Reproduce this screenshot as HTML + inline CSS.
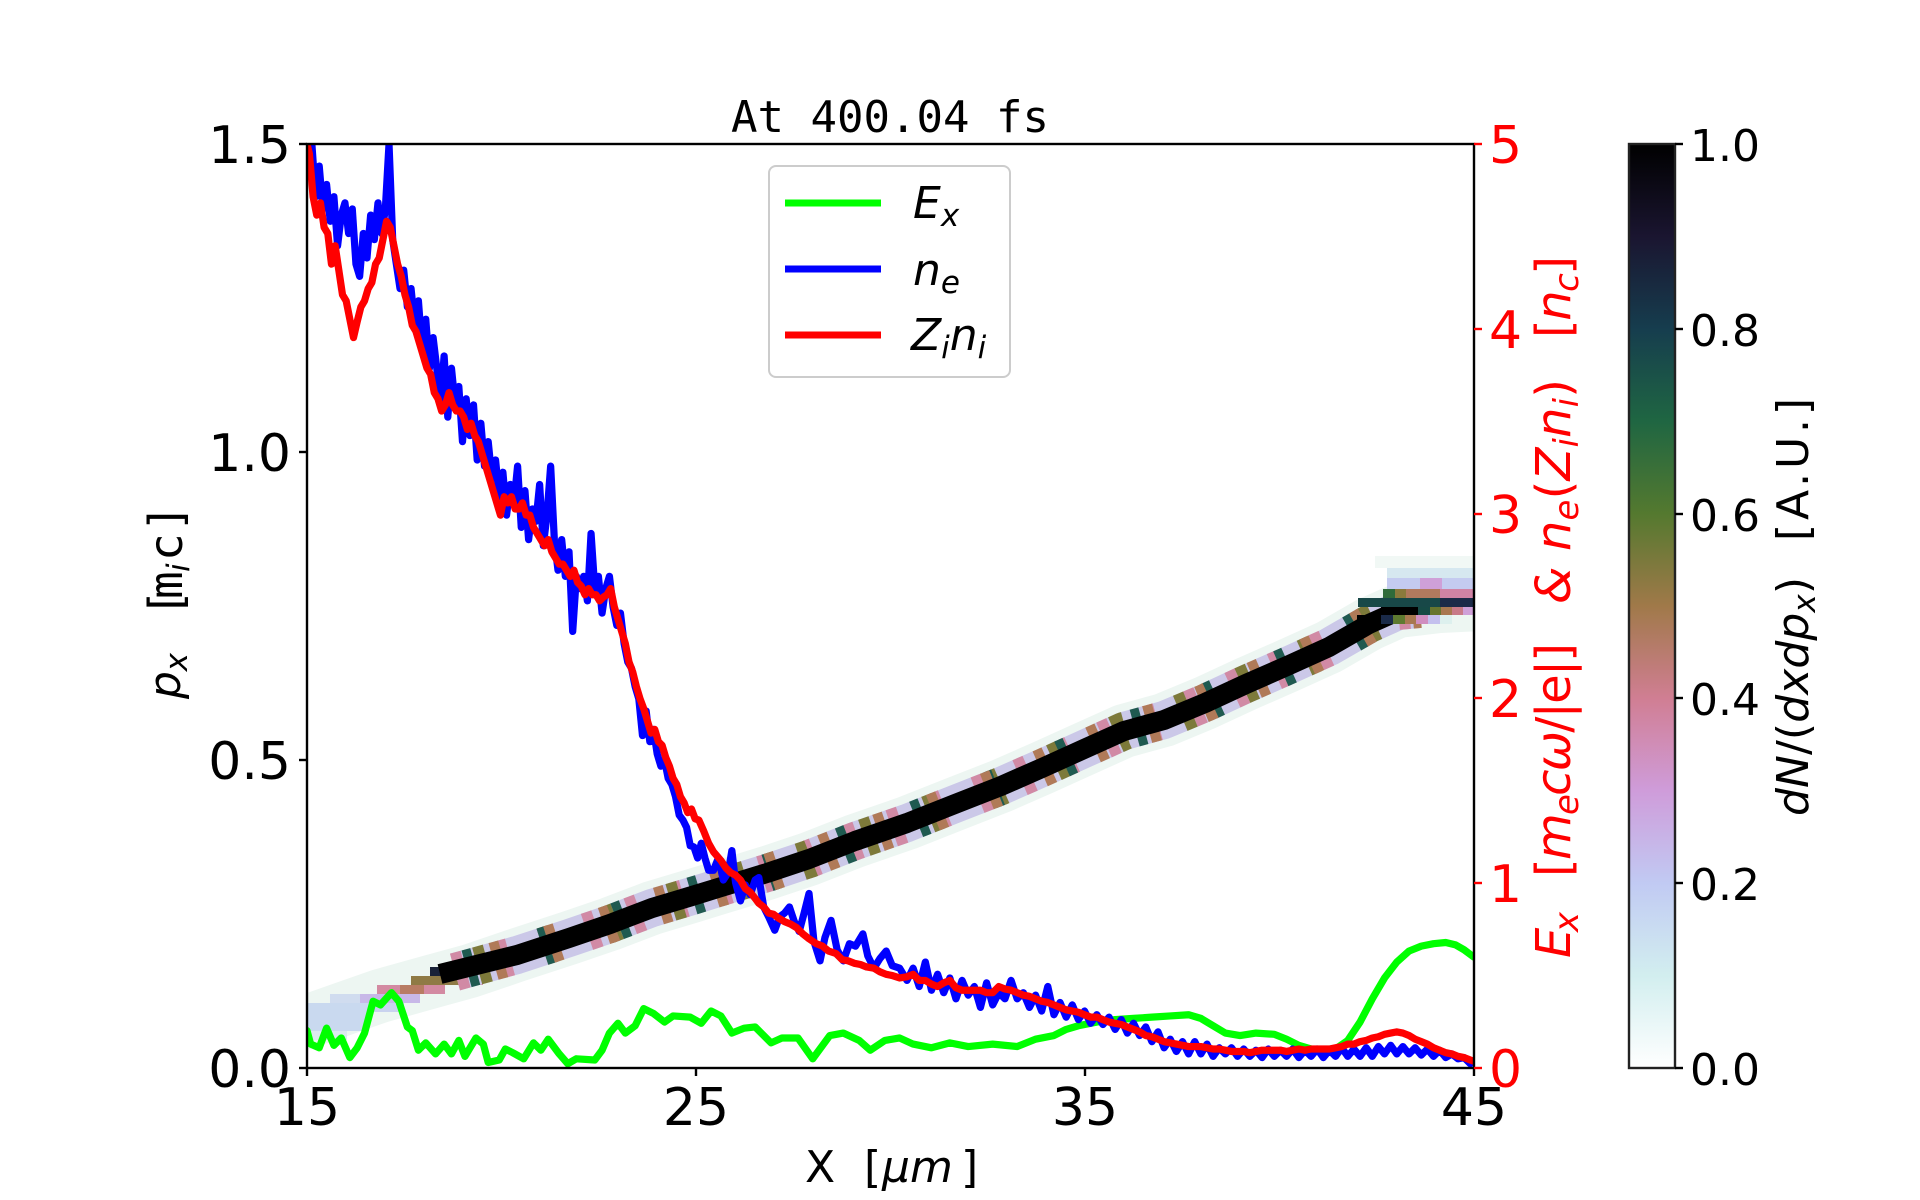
<!DOCTYPE html>
<html>
<head>
<meta charset="utf-8">
<style>
  html, body { margin: 0; padding: 0; background: #ffffff; }
  svg { display: block; }
  text { font-family: "DejaVu Sans", "Liberation Sans", sans-serif; }
  .mono { font-family: "DejaVu Sans Mono", "Liberation Mono", monospace; }
</style>
</head>
<body>
<svg width="1920" height="1200" viewBox="0 0 1920 1200" xmlns="http://www.w3.org/2000/svg">
  <defs>
    <clipPath id="clipAx">
      <rect x="307" y="144" width="1167" height="924"/>
    </clipPath>
    <clipPath id="clipD">
      <rect x="250" y="117" width="953" height="755"/>
    </clipPath>
    <linearGradient id="cmap" x1="0" y1="1" x2="0" y2="0">
      <stop offset="0" stop-color="#ffffff"/>
      <stop offset="0.1" stop-color="#d2eeef"/>
      <stop offset="0.2" stop-color="#c1caf3"/>
      <stop offset="0.3" stop-color="#cf9cda"/>
      <stop offset="0.4" stop-color="#d07e93"/>
      <stop offset="0.5" stop-color="#a07949"/>
      <stop offset="0.6" stop-color="#54792f"/>
      <stop offset="0.7" stop-color="#1f6642"/>
      <stop offset="0.8" stop-color="#163d4e"/>
      <stop offset="0.9" stop-color="#1a1530"/>
      <stop offset="1" stop-color="#000000"/>
    </linearGradient>
  </defs>

  <rect x="0" y="0" width="1920" height="1200" fill="#ffffff"/>

  <!-- Title -->
  <text class="mono" x="890" y="132" font-size="44" text-anchor="middle" fill="#000">At 400.04 fs</text>

  <!-- Heatmap band (phase space) -->
  <g clip-path="url(#clipAx)">
    <!-- pale halo -->
    <polyline fill="none" stroke="#edf6f2" stroke-width="54" stroke-linejoin="round" stroke-linecap="butt"
      points="300,1024 340,1010 380,996 430,982 470,971 517,955 569,938 610,924 652,908 692,896 718,888 767,873 809,859 855,841 907,823 955,804 1001,786 1042,768 1084,749 1124,731 1164,720 1205,703 1246,684 1287,666 1329,647 1369,624 1398,611 1440,606 1480,604"/>
    <!-- left faint part -->
    <rect x="307" y="1003" width="62" height="28" fill="#c9d9ef"/>
    <rect x="307" y="1031" width="40" height="9" fill="#dbeaf0"/>
    <rect x="330" y="994" width="40" height="9" fill="#d0dcef"/>
    <rect x="360" y="994" width="60" height="9" fill="#c8b8e8"/>
    <rect x="369" y="1003" width="35" height="9" fill="#c9d3ef"/>
    <rect x="377" y="985" width="68" height="9" fill="#d38aa2"/>
    <rect x="400" y="985" width="24" height="9" fill="#b87c64"/>
    <rect x="411" y="976" width="48" height="9" fill="#8f7a45"/>
    <rect x="459" y="976" width="24" height="9" fill="#cf8aa0"/>
    <rect x="430" y="967" width="40" height="9" fill="#1a2238"/>
    <!-- colored fringe base -->
    <polyline id="bandline" fill="none" stroke="#cbc8e8" stroke-width="38" stroke-linejoin="round"
      points="455,972 517,955 569,938 610,924 652,908 692,896 718,888 767,873 809,859 855,841 907,823 955,804 1001,786 1042,768 1084,749 1124,731 1164,720 1205,703 1246,684 1287,666 1329,647 1369,624 1398,611 1420,609"/>
    <g fill="none" stroke-width="38" stroke-linejoin="round">
      <polyline stroke="#d18aa5" stroke-dasharray="11 35" stroke-dashoffset="0"
        points="455,972 517,955 569,938 610,924 652,908 692,896 718,888 767,873 809,859 855,841 907,823 955,804 1001,786 1042,768 1084,749 1124,731 1164,720 1205,703 1246,684 1287,666 1329,647 1369,624 1398,611 1420,609"/>
      <polyline stroke="#7d7a3a" stroke-dasharray="11 57" stroke-dashoffset="-23"
        points="455,972 517,955 569,938 610,924 652,908 692,896 718,888 767,873 809,859 855,841 907,823 955,804 1001,786 1042,768 1084,749 1124,731 1164,720 1205,703 1246,684 1287,666 1329,647 1369,624 1398,611 1420,609"/>
      <polyline stroke="#1f5a50" stroke-dasharray="9 70" stroke-dashoffset="-12"
        points="455,972 517,955 569,938 610,924 652,908 692,896 718,888 767,873 809,859 855,841 907,823 955,804 1001,786 1042,768 1084,749 1124,731 1164,720 1205,703 1246,684 1287,666 1329,647 1369,624 1398,611 1420,609"/>
      <polyline stroke="#b07a58" stroke-dasharray="10 48" stroke-dashoffset="-40"
        points="455,972 517,955 569,938 610,924 652,908 692,896 718,888 767,873 809,859 855,841 907,823 955,804 1001,786 1042,768 1084,749 1124,731 1164,720 1205,703 1246,684 1287,666 1329,647 1369,624 1398,611 1420,609"/>
    </g>
    <!-- black core -->
    <polyline fill="none" stroke="#000000" stroke-width="20" stroke-linejoin="round"
      points="440,974 517,955 569,938 610,924 652,908 692,896 718,888 767,873 809,859 855,841 907,823 955,804 1001,786 1042,768 1084,749 1124,731 1164,720 1205,703 1246,684 1287,666 1329,647 1369,624 1398,611 1418,610"/>
    <!-- top-right blob -->
    <rect x="1375" y="556" width="99" height="12" fill="#f1f8f5"/>
    <rect x="1387" y="568" width="87" height="10" fill="#d6e8f0"/>
    <rect x="1387" y="578" width="87" height="11" fill="#c4cbf0"/>
    <rect x="1420" y="578" width="22" height="11" fill="#cfa0d8"/>
    <rect x="1383" y="589" width="12" height="9" fill="#2f6b3a"/>
    <rect x="1395" y="589" width="11" height="9" fill="#8b7a3c"/>
    <rect x="1406" y="589" width="34" height="9" fill="#b27a5e"/>
    <rect x="1440" y="589" width="34" height="9" fill="#d083a5"/>
    <rect x="1358" y="598" width="82" height="9" fill="#184848"/>
    <rect x="1440" y="598" width="34" height="9" fill="#1b2a48"/>
    <rect x="1381" y="607" width="37" height="8" fill="#000000"/>
    <rect x="1418" y="607" width="12" height="8" fill="#164a46"/>
    <rect x="1430" y="607" width="11" height="8" fill="#67762f"/>
    <rect x="1441" y="607" width="11" height="8" fill="#a87850"/>
    <rect x="1452" y="607" width="11" height="8" fill="#c87a88"/>
    <rect x="1463" y="607" width="11" height="8" fill="#cfa0d8"/>
    <rect x="1357" y="615" width="24" height="9" fill="#000000"/>
    <rect x="1381" y="615" width="12" height="9" fill="#1a2a48"/>
    <rect x="1393" y="615" width="12" height="9" fill="#5e7a30"/>
    <rect x="1405" y="615" width="11" height="9" fill="#a87850"/>
    <rect x="1416" y="615" width="12" height="9" fill="#d08ec0"/>
    <rect x="1428" y="615" width="12" height="9" fill="#c4c0ee"/>
    <rect x="1440" y="615" width="12" height="9" fill="#ddf0ee"/>
  </g>

  <!-- Curves (drawn in scaled coords) -->
  <g clip-path="url(#clipD)" transform="translate(0.85,0.83) scale(1.2245)" fill="none" stroke-width="5.9" stroke-linejoin="round" stroke-linecap="round">
    <polyline stroke="#00ff00" points="250,841 253,852 260,855 266,839 272,853 278,847 285,863 291,855 297,843 304,817 310,820 319,810 325,817 332,838 336,841 341,857 347,851 355,860 362,852 368,860 374,849 379,862 388,847 394,852 398,867 407,865 412,856 418,859 427,864 435,851 441,857 447,848 456,860 463,868 470,864 485,865 491,857 497,843 504,835 510,843 518,837 525,823 533,827 542,834 549,829 563,830 572,835 580,825 588,829 597,843 607,839 616,838 629,851 638,847 651,847 663,864 677,845 688,843 701,849 710,857 722,849 734,847 745,852 760,855 775,851 790,854 810,852 830,854 845,848 860,845 870,840 880,837 895,834 910,832 925,831 940,830 955,829 970,828 980,831 990,837 1000,843 1012,845 1025,843 1040,844 1050,848 1060,853 1070,856 1080,857 1090,856 1100,849 1110,834 1120,815 1130,798 1140,785 1150,776 1160,772 1170,770 1180,769 1188,771 1195,775 1203,781"/>
    <polyline stroke="#0000ff" points="250,95 254,117 257,160 260,135 263,170 266,150 269,180 272,160 275,200 278,175 281,165 284,190 287,170 290,215 293,225 296,190 299,210 302,175 305,195 308,165 311,190 314,170 317,117 320,195 323,215 326,235 329,220 332,250 335,235 338,265 341,245 344,285 347,260 350,300 353,275 356,300 359,330 362,290 365,340 368,300 371,330 374,315 377,360 380,325 383,355 386,330 389,375 392,345 395,380 398,360 401,390 404,375 407,405 410,385 413,420 416,395 419,410 422,380 425,430 428,400 431,440 434,415 437,425 440,395 443,445 446,420 449,380 452,440 455,465 458,440 461,470 464,450 467,515 470,470 473,480 476,470 479,490 482,435 485,480 488,470 491,500 494,480 497,470 500,495 503,510 506,500 509,525 512,540 515,545 518,560 521,570 524,600 527,580 530,605 533,595 536,615 539,625 542,620 545,635 548,640 551,650 554,665 557,669 560,675 563,690 566,691 569,700 572,688 575,700 578,710 582,710 586,700 590,718 594,712 597,694 600,720 604,735 608,722 612,730 616,718 619,716 623,740 627,748 632,759 636,748 640,745 644,740 648,752 652,760 656,745 660,729 664,768 669,784 673,765 678,751 683,775 688,784 693,770 698,772 704,762 708,780 713,790 718,782 723,776 728,788 734,790 740,800 745,790 750,805 755,785 760,808 765,795 770,810 775,798 780,815 785,800 790,812 795,805 800,822 805,802 810,820 815,810 820,815 825,800 830,815 835,810 840,822 845,812 850,825 855,805 860,828 865,818 870,830 875,820 880,832 885,825 890,835 895,828 900,836 905,830 910,840 915,832 920,843 925,835 930,845 935,838 940,850 945,842 950,855 955,848 960,858 965,850 970,860 975,850 980,860 985,852 990,862 995,855 1000,860 1005,855 1010,862 1015,856 1020,862 1025,857 1030,863 1035,856 1040,862 1045,857 1050,862 1055,856 1060,863 1065,857 1070,862 1075,856 1080,863 1085,857 1090,862 1095,855 1100,862 1105,856 1110,862 1115,855 1120,862 1125,854 1130,860 1135,853 1140,860 1145,854 1150,860 1155,855 1160,861 1165,856 1170,862 1175,857 1180,863 1185,860 1190,864 1195,863 1200,868 1203,866"/>
    <polyline stroke="#ff0000" points="250,117 252,125 255,160 258,175 261,165 264,185 267,190 270,215 273,200 276,220 279,240 282,245 285,260 288,275 291,262 294,250 297,245 300,235 303,230 306,215 309,210 312,195 315,180 318,185 321,200 324,215 327,225 330,240 333,250 336,265 339,270 342,280 345,290 348,300 351,305 354,320 357,325 360,335 363,330 366,320 369,330 372,335 375,335 378,340 381,350 384,345 387,355 390,360 393,370 396,380 399,390 402,400 405,410 408,420 411,405 414,410 417,405 420,415 423,415 426,410 429,420 432,420 435,430 438,435 441,440 444,445 447,440 450,450 453,455 456,460 459,460 462,465 465,470 468,465 471,475 474,478 477,485 480,480 483,485 486,485 489,490 492,487 495,485 498,480 501,495 504,505 507,515 510,525 513,540 516,548 519,560 522,570 525,578 528,588 531,598 534,595 537,605 540,608 543,618 546,625 549,635 552,640 555,650 558,655 561,663 564,660 567,668 570,669 574,678 578,688 582,695 588,702 592,708 596,712 600,714 604,718 608,725 612,728 616,733 619,737 623,740 627,745 631,746 635,749 640,752 645,754 650,757 655,762 660,766 666,770 671,772 676,776 682,778 687,783 692,784 697,786 702,787 707,789 713,790 718,793 723,795 728,796 734,798 740,797 745,795 750,800 755,800 760,803 765,805 770,802 775,800 780,806 785,808 790,808 795,808 800,808 805,810 810,810 815,805 820,807 825,808 830,810 835,812 840,813 845,815 850,817 855,818 860,820 865,822 870,824 875,825 880,826 885,828 890,830 895,830 900,832 905,834 910,835 915,836 920,838 925,840 930,842 935,845 940,846 945,848 950,850 955,851 960,852 965,853 970,854 975,854 980,854 985,855 990,856 995,856 1000,857 1005,858 1010,858 1015,858 1020,859 1025,858 1030,857 1035,857 1040,857 1045,857 1050,858 1055,857 1060,856 1065,857 1070,856 1075,856 1080,856 1085,856 1090,855 1095,854 1100,852 1105,852 1110,850 1115,849 1120,847 1125,846 1130,844 1135,843 1140,842 1145,843 1150,845 1155,848 1160,850 1165,852 1170,855 1175,857 1180,859 1185,860 1190,862 1195,863 1200,865 1203,866"/>
  </g>

  <!-- Axes spines -->
  <rect x="307" y="144" width="1167" height="924" fill="none" stroke="#000" stroke-width="2.4"/>

  <!-- Left/bottom ticks -->
  <g stroke="#000" stroke-width="2.4">
    <line x1="299" y1="144" x2="307" y2="144"/>
    <line x1="299" y1="452" x2="307" y2="452"/>
    <line x1="299" y1="760" x2="307" y2="760"/>
    <line x1="299" y1="1068" x2="307" y2="1068"/>
    <line x1="307" y1="1068" x2="307" y2="1076"/>
    <line x1="696" y1="1068" x2="696" y2="1076"/>
    <line x1="1085" y1="1068" x2="1085" y2="1076"/>
    <line x1="1474" y1="1068" x2="1474" y2="1076"/>
  </g>
  <g stroke="#ff0000" stroke-width="2.4">
    <line x1="1474" y1="1068" x2="1482" y2="1068"/>
    <line x1="1474" y1="883" x2="1482" y2="883"/>
    <line x1="1474" y1="698" x2="1482" y2="698"/>
    <line x1="1474" y1="514" x2="1482" y2="514"/>
    <line x1="1474" y1="329" x2="1482" y2="329"/>
    <line x1="1474" y1="144" x2="1482" y2="144"/>
  </g>

  <!-- Left tick labels -->
  <g font-size="52" text-anchor="end" fill="#000">
    <text x="291" y="163">1.5</text>
    <text x="291" y="471">1.0</text>
    <text x="291" y="779">0.5</text>
    <text x="291" y="1087">0.0</text>
  </g>
  <!-- Bottom tick labels -->
  <g font-size="52" text-anchor="middle" fill="#000">
    <text x="307" y="1125">15</text>
    <text x="696" y="1125">25</text>
    <text x="1085" y="1125">35</text>
    <text x="1474" y="1125">45</text>
  </g>
  <!-- Right tick labels -->
  <g font-size="52" fill="#ff0000">
    <text x="1489" y="1087">0</text>
    <text x="1489" y="902">1</text>
    <text x="1489" y="717">2</text>
    <text x="1489" y="533">3</text>
    <text x="1489" y="348">4</text>
    <text x="1489" y="163">5</text>
  </g>

  <!-- X label -->
  <text y="1182" font-size="44" fill="#000"><tspan x="805">X</tspan><tspan x="864">[</tspan><tspan x="882" font-style="italic">μm</tspan><tspan x="961">]</tspan></text>

  <!-- Left Y label -->
  <g transform="rotate(-90)" fill="#000">
    <text x="-699" y="180" font-size="44" textLength="46"><tspan font-style="italic">p</tspan><tspan font-size="31" dy="7" font-style="italic">x</tspan></text>
    <text class="mono" x="-617" y="182" font-size="46">[</text>
    <text class="mono" x="-599" y="182" font-size="46">m</text>
    <text x="-572" y="189" font-size="31" font-style="italic">i</text>
    <text class="mono" x="-561" y="182" font-size="46">c</text>
    <text class="mono" x="-532" y="182" font-size="46">]</text>
  </g>

  <!-- Right Y label (red) -->
  <g transform="rotate(-90)" fill="#ff0000" font-size="48">
    <text x="-958" y="1570" textLength="46"><tspan font-style="italic">E</tspan><tspan font-size="34" dy="8" font-style="italic">x</tspan></text>
    <text x="-877" y="1570" textLength="234">[<tspan font-style="italic">m</tspan><tspan font-size="34" dy="8" font-style="italic">e</tspan><tspan dy="-8" font-style="italic">cω</tspan>/|e|]</text>
    <text x="-604" y="1570" textLength="31" font-style="italic">&amp;</text>
    <text x="-551" y="1570" textLength="172"><tspan font-style="italic">n</tspan><tspan font-size="34" dy="8" font-style="italic">e</tspan><tspan dy="-8">(</tspan><tspan font-style="italic">Z</tspan><tspan font-size="34" dy="8" font-style="italic">i</tspan><tspan dy="-8" font-style="italic">n</tspan><tspan font-size="34" dy="8" font-style="italic">i</tspan><tspan dy="-8">)</tspan></text>
    <text x="-338" y="1570" textLength="82">[<tspan font-style="italic">n</tspan><tspan font-size="34" dy="8" font-style="italic">c</tspan><tspan dy="-8">]</tspan></text>
  </g>

  <!-- Legend -->
  <rect x="769" y="166" width="241" height="211" rx="7" ry="7" fill="#ffffff" fill-opacity="0.8" stroke="#cccccc" stroke-width="2"/>
  <line x1="785" y1="203" x2="881" y2="203" stroke="#00ff00" stroke-width="7"/>
  <line x1="785" y1="269" x2="881" y2="269" stroke="#0000ff" stroke-width="7"/>
  <line x1="785" y1="335" x2="881" y2="335" stroke="#ff0000" stroke-width="7"/>
  <g font-size="44" fill="#000" font-style="italic">
    <text x="913" y="218">E<tspan font-size="31" dy="8">x</tspan></text>
    <text x="913" y="285">n<tspan font-size="31" dy="8">e</tspan></text>
    <text x="911" y="350">Z<tspan font-size="31" dy="8">i</tspan><tspan dy="-8">n</tspan><tspan font-size="31" dy="8">i</tspan></text>
  </g>

  <!-- Colorbar -->
  <rect x="1629" y="144" width="46" height="924" fill="url(#cmap)" stroke="#222" stroke-width="2.4"/>
  <g stroke="#000" stroke-width="2.4">
    <line x1="1675" y1="144" x2="1683" y2="144"/>
    <line x1="1675" y1="329" x2="1683" y2="329"/>
    <line x1="1675" y1="514" x2="1683" y2="514"/>
    <line x1="1675" y1="698" x2="1683" y2="698"/>
    <line x1="1675" y1="883" x2="1683" y2="883"/>
    <line x1="1675" y1="1068" x2="1683" y2="1068"/>
  </g>
  <g font-size="44" fill="#000">
    <text x="1690" y="161">1.0</text>
    <text x="1690" y="346">0.8</text>
    <text x="1690" y="531">0.6</text>
    <text x="1690" y="715">0.4</text>
    <text x="1690" y="900">0.2</text>
    <text x="1690" y="1085">0.0</text>
  </g>
  <!-- Colorbar label -->
  <g transform="rotate(-90)" fill="#000" font-size="44">
    <text x="-816" y="1808" textLength="239"><tspan font-style="italic">dN</tspan>/(<tspan font-style="italic">dxdp</tspan><tspan font-size="31" dy="7" font-style="italic">x</tspan><tspan dy="-7">)</tspan></text>
    <text x="-541" y="1808" textLength="143">[A.U.]</text>
  </g>
</svg>
</body>
</html>
